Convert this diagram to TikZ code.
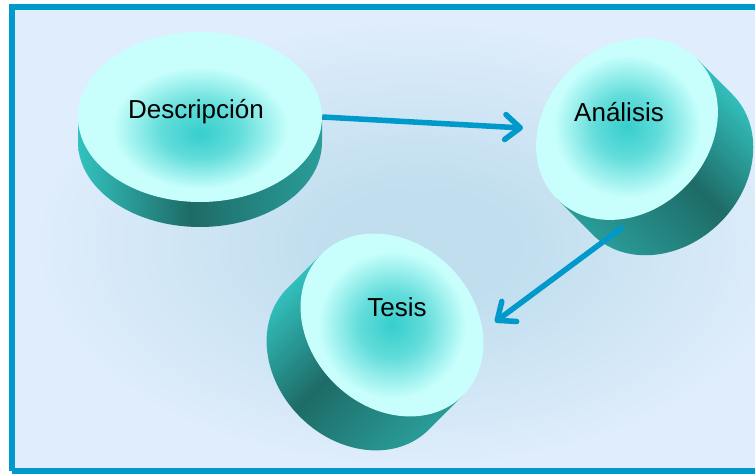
\documentclass[tikz,border=0pt]{standalone}
\usepackage{fontspec}
\setmainfont{Liberation Sans}
\usepackage{xcolor}
\definecolor{frameBlue}{HTML}{0099CC}
\definecolor{arrowBlue}{HTML}{0099CC}
\definecolor{bgLight}{HTML}{DFEDFC}
\definecolor{bgDeep}{HTML}{C0DEEE}
\definecolor{faceRim}{HTML}{C8FFFC}
\definecolor{faceCore}{HTML}{36CECC}
\definecolor{sideLight}{HTML}{33C2BF}
\definecolor{sideDark}{HTML}{1E6B67}
\definecolor{sideMid}{HTML}{2A9E9A}
\usepackage{tikz}
\usetikzlibrary{shapes.geometric,arrows.meta,calc,positioning}

\pgfdeclareradialshading{bgglow}{\pgfpoint{1bp}{-1bp}}{color(0bp)=(bgDeep); color(6bp)=(bgDeep); color(24bp)=(bgLight); color(50bp)=(bgLight)}
\pgfdeclareradialshading{facelit}{\pgfpoint{0bp}{0bp}}{color(0bp)=(faceCore); color(8bp)=(faceCore!70!faceRim); color(18bp)=(faceRim); color(50bp)=(faceRim)}
\pgfdeclareradialshading{facelow}{\pgfpoint{0bp}{-5bp}}{color(0bp)=(faceCore); color(8bp)=(faceCore!70!faceRim); color(18bp)=(faceRim); color(50bp)=(faceRim)}
\pgfdeclarehorizontalshading{sidetone}{100bp}{color(0bp)=(sideLight); color(25bp)=(sideLight); color(48bp)=(sideDark); color(75bp)=(sideMid); color(100bp)=(sideMid)}

\tikzset{
    panel/.style={
        draw=frameBlue,
        line width=5.5pt
    },
    face/.style={
        ellipse,
        shade,
        shading=facelit,
        inner sep=0pt
    },
    side/.style={
        shade,
        shading=sidetone
    },
    tag/.style={
        font=\fontsize{26}{30}\selectfont,
        text=black,
        anchor=base,
        inner sep=0pt
    },
    flow/.style={
        -{Straight Barb[length=15pt,width=25pt,round]},
        line width=5.5pt,
        draw=arrowBlue
    }
}

\begin{document}
\begin{tikzpicture}[x=1pt, y=1pt]
    \useasboundingbox (0,0) rectangle (755,474);
    \clip (0,0) rectangle (755,474);

    % Panel (right edge runs off the page)
    \shade[shading=bgglow] (12,3) rectangle (800,467);
    \draw[panel] (12,3) -- (12,467) -- (800,467);
    \draw[panel] (12,3) -- (800,3);

    % Disc sides
    \begin{scope}[shift={(200,357)}]
        \shade[side, shading angle=0] (-122,0) -- (-122,-25)
            arc[start angle=180, end angle=360, x radius=122, y radius=85] -- (122,0) -- cycle;
    \end{scope}
    \begin{scope}[shift={(627,345)}, rotate=45]
        \shade[side, shading angle=-135] (-99,0) -- (-99,-50)
            arc[start angle=180, end angle=360, x radius=99, y radius=82] -- (99,0) -- cycle;
    \end{scope}
    \begin{scope}[shift={(392,149)}, rotate=-45]
        \shade[side, shading angle=-45] (-100,0) -- (-100,-48)
            arc[start angle=180, end angle=360, x radius=100, y radius=82] -- (100,0) -- cycle;
    \end{scope}

    % Disc tops
    \node[face, shading=facelow, minimum width=244pt, minimum height=170pt] (desc) at (200,357) {};
    \node[face, rotate=45, minimum width=198pt, minimum height=164pt] (anal) at (627,345) {};
    \node[face, rotate=-45, minimum width=200pt, minimum height=164pt] (tesis) at (392,149) {};

    % Labels
    \node[tag] (desc-txt) at ($(desc)+(-4,-2)$) {Descripción};
    \node[tag] (anal-txt) at ($(anal)+(-8,7)$) {Análisis};
    \node[tag] (tesis-txt) at ($(tesis)+(5,8)$) {Tesis};

    % Arrows
    \coordinate (anal-in) at ($(anal)+(-104,1)$);
    \coordinate (anal-out) at ($(anal)+(-4,-98)$);
    \coordinate (tesis-in) at ($(tesis)+(103,3)$);
    \draw[flow] (desc.east) -- (anal-in);
    \draw[flow] (anal-out) -- (tesis-in);
\end{tikzpicture}
\end{document}
